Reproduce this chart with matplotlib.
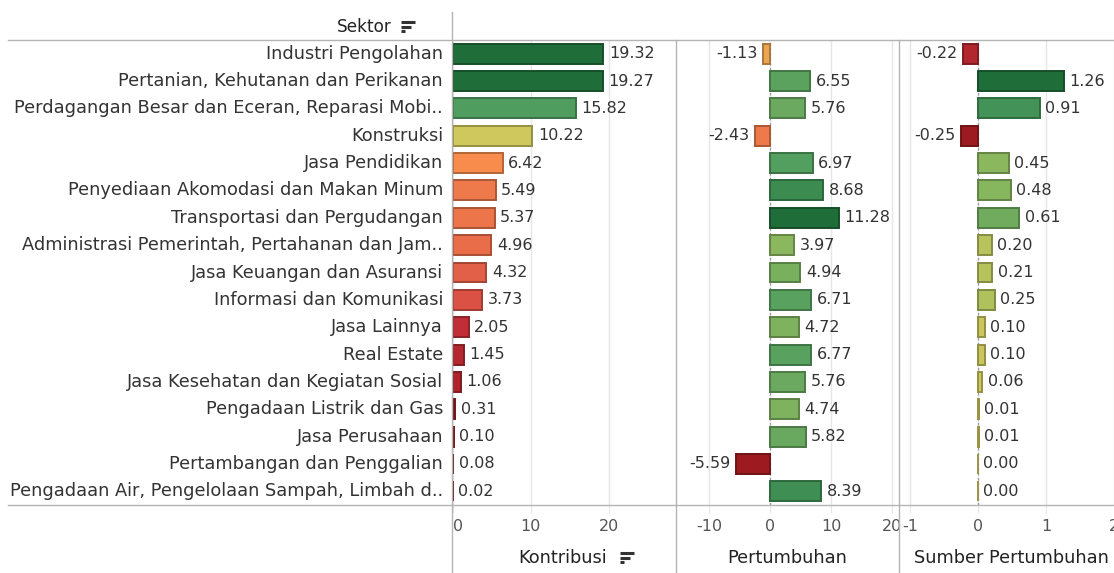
import matplotlib
matplotlib.use("Agg")
import matplotlib.pyplot as plt
from matplotlib.colors import LinearSegmentedColormap, Normalize, TwoSlopeNorm, to_rgb
from matplotlib.lines import Line2D

sektor = [
    "Industri Pengolahan",
    "Pertanian, Kehutanan dan Perikanan",
    "Perdagangan Besar dan Eceran, Reparasi Mobi..",
    "Konstruksi",
    "Jasa Pendidikan",
    "Penyediaan Akomodasi dan Makan Minum",
    "Transportasi dan Pergudangan",
    "Administrasi Pemerintah, Pertahanan dan Jam..",
    "Jasa Keuangan dan Asuransi",
    "Informasi dan Komunikasi",
    "Jasa Lainnya",
    "Real Estate",
    "Jasa Kesehatan dan Kegiatan Sosial",
    "Pengadaan Listrik dan Gas",
    "Jasa Perusahaan",
    "Pertambangan dan Penggalian",
    "Pengadaan Air, Pengelolaan Sampah, Limbah d..",
]
kontribusi = [19.32, 19.27, 15.82, 10.22, 6.42, 5.49, 5.37, 4.96, 4.32, 3.73,
              2.05, 1.45, 1.06, 0.31, 0.10, 0.08, 0.02]
pertumbuhan = [-1.13, 6.55, 5.76, -2.43, 6.97, 8.68, 11.28, 3.97, 4.94, 6.71,
               4.72, 6.77, 5.76, 4.74, 5.82, -5.59, 8.39]
sumber = [-0.22, 1.26, 0.91, -0.25, 0.45, 0.48, 0.61, 0.20, 0.21, 0.25,
          0.10, 0.10, 0.06, 0.01, 0.01, 0.00, 0.00]

titles = ["Kontribusi", "Pertumbuhan", "Sumber Pertumbuhan"]
ticks = [[0, 10, 20], [-10, 0, 10, 20], [-1, 0, 1, 2]]

cmap = LinearSegmentedColormap.from_list("rgg", [
    (0.0, "#9c1a20"), (0.12, "#c8323b"), (0.22, "#e25f48"), (0.33, "#f78c4c"),
    (0.5, "#dccb5c"), (0.67, "#8fba5e"), (0.83, "#4b9b5f"), (1.0, "#1f6d38")])

W, H = 1114, 573
fig = plt.figure(figsize=(W / 100, H / 100), dpi=100)
TXT = "#333333"
GRID = "#e6e6e6"
LINE = "#b4b4b4"
FS = 11.5
FL = 12.8

def fx(px):
    return px / W

def fy(py):
    return 1 - py / H

top, bot = 40, 505
panels = [(452, 676, (-0.1, 28.66)), (676, 899, (-15.4, 21.1)), (899, 1114, (-1.16, 2.0))]
datasets = [kontribusi, pertumbuhan, sumber]
norms = [Normalize(min(kontribusi), max(kontribusi)),
         TwoSlopeNorm(0, min(pertumbuhan), max(pertumbuhan)),
         TwoSlopeNorm(0, min(sumber), max(sumber))]

n = len(sektor)
ypos = list(range(n))
axes = []
for i, ((x0, x1, xl), vals, nm) in enumerate(zip(panels, datasets, norms)):
    ax = fig.add_axes([fx(x0), fy(bot), fx(x1 - x0), fy(top) - fy(bot)])
    axes.append(ax)
    ax.set_xlim(*xl)
    ax.set_ylim(n - 0.5, -0.5)
    for s in ax.spines.values():
        s.set_visible(False)
    ax.set_yticks([])
    ax.set_xticks(ticks[i])
    ax.tick_params(axis="x", length=6, color=GRID, labelsize=FS, labelcolor="#555555", pad=4)
    labs = ax.set_xticklabels([str(t) for t in ticks[i]])
    if i == 0:
        labs[0].set_ha("left")
    for t in ticks[i]:
        ax.axvline(t, color=GRID, lw=1, zorder=0)
    if i > 0:
        ax.axvline(0, color="#9a9a9a", lw=0.9, ls=(0, (2, 2)), zorder=1)
    cols = [cmap(nm(v)) for v in vals]
    edges = [tuple(c * 0.72 for c in to_rgb(col)) for col in cols]
    ax.barh(ypos, vals, height=0.73, color=cols, edgecolor=edges, linewidth=1.4, zorder=2)
    span = xl[1] - xl[0]
    off = span * 5.5 / (x1 - x0)
    for y, v in zip(ypos, vals):
        if v < 0:
            ax.text(v - off, y, f"{v:.2f}", ha="right", va="center", fontsize=FS, color=TXT)
        else:
            ax.text(v + off, y, f"{v:.2f}", ha="left", va="center", fontsize=FS, color=TXT)
    ax.set_facecolor("none")

# Axis titles
title_x = [563, 787, 1011]
for t, x in zip(titles, title_x):
    fig.text(fx(x), fy(558), t, ha="center", va="center", fontsize=FL, color="#222222")

# Row labels
for y, s in zip(ypos, sektor):
    yy = top + (y + 0.5) * (bot - top) / n
    fig.text(fx(443), fy(yy), s, ha="right", va="center", fontsize=FL, color=TXT)

fig.text(fx(364), fy(27), "Sektor", ha="center", va="center", fontsize=12.2, color="#222222")

# Frame lines
fig.add_artist(Line2D([fx(8), 1], [fy(top), fy(top)], color=LINE, lw=1))
fig.add_artist(Line2D([fx(8), 1], [fy(bot), fy(bot)], color=LINE, lw=1))
fig.add_artist(Line2D([fx(452), fx(452)], [fy(12), 0], color=LINE, lw=1))
for xp in (676, 899):
    fig.add_artist(Line2D([fx(xp), fx(xp)], [fy(top), 0], color=LINE, lw=1))

# Sort icons
def sort_icon(xc, yc):
    for k, ln in enumerate([14, 10, 4]):
        yy = yc - 5 + k * 4.5
        fig.add_artist(Line2D([fx(xc), fx(xc + ln)], [fy(yy), fy(yy)], color="#333333", lw=2.2,
                              solid_capstyle="butt"))

sort_icon(401, 27)
sort_icon(620, 558)

fig.savefig("out.png", dpi=100)
